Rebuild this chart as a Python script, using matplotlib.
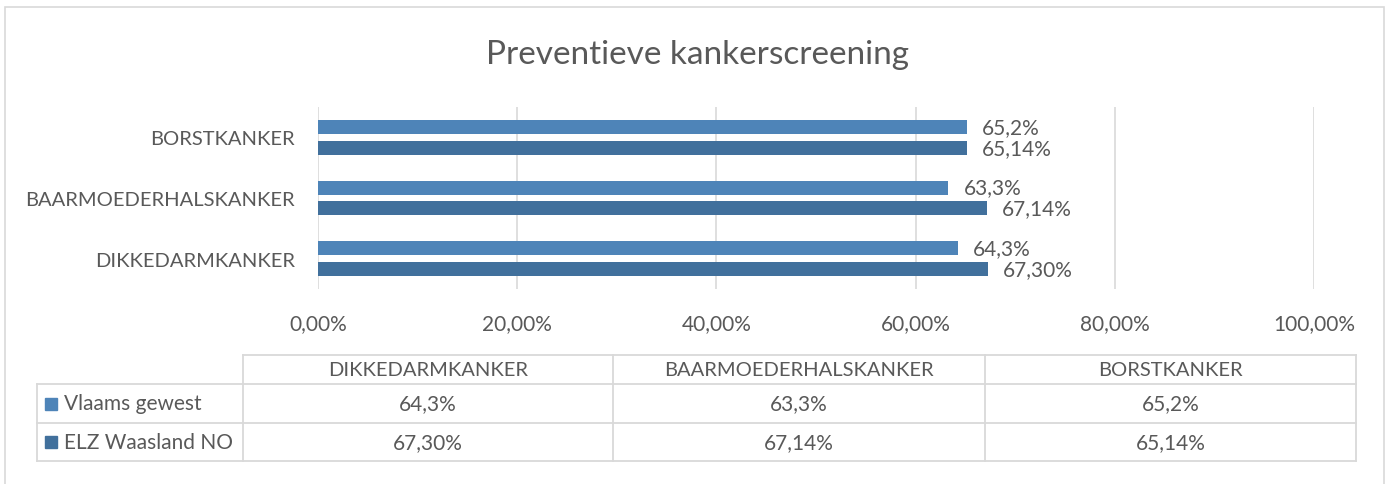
import numpy as np
import matplotlib.pyplot as plt
from matplotlib.patches import Rectangle
from matplotlib.lines import Line2D

# Daten
categorieen = ["DIKKEDARMKANKER", "BAARMOEDERHALSKANKER", "BORSTKANKER"]
reeksen = ["Vlaams gewest", "ELZ Waasland NO"]
vlaams = [64.3, 63.3, 65.2]
elz = [67.30, 67.14, 65.14]
vlaams_labels = ["64,3%", "63,3%", "65,2%"]
elz_labels = ["67,30%", "67,14%", "65,14%"]
x_ticks = [0, 20, 40, 60, 80, 100]
x_ticklabels = ["0,00%", "20,00%", "40,00%", "60,00%", "80,00%", "100,00%"]

kleur_vlaams = "#4e84b8"
kleur_elz = "#41709c"
tekst = "#595959"
raster = "#d9d9d9"

plt.rcParams['font.family'] = ['Lato', 'DejaVu Sans']

W, H = 1390, 485
fig = plt.figure(figsize=(W / 100, H / 100), dpi=100)

def fx(px):
    return px / W

def fy(py):
    return 1 - py / H

# Kaderrand
fig.add_artist(Rectangle((fx(5), fy(490)), fx(1384 - 5), (490 - 8) / H,
                         transform=fig.transFigure, fill=False,
                         edgecolor=raster, linewidth=1.2))

ax = fig.add_axes([fx(318), fy(290), fx(1314 - 318), (290 - 108) / H])

y = np.arange(len(categorieen))
offset = 0.172
hoogte = 0.23
ax.barh(y + offset, vlaams, height=hoogte, color=kleur_vlaams)
ax.barh(y - offset, elz, height=hoogte, color=kleur_elz)

for i in range(len(categorieen)):
    ax.text(vlaams[i] + 1.5, y[i] + offset, vlaams_labels[i], va="center",
            ha="left", fontsize=15, color=tekst)
    ax.text(elz[i] + 1.5, y[i] - offset, elz_labels[i], va="center",
            ha="left", fontsize=15, color=tekst)

ax.set_xlim(0, 100)
ax.set_ylim(-0.5, 2.5)
ax.set_xticks(x_ticks)
ax.set_xticklabels(x_ticklabels, fontsize=15, color=tekst)
ax.set_yticks(y)
ax.set_yticklabels(categorieen, fontsize=14.5, color=tekst)
ax.tick_params(axis="both", length=0)
ax.tick_params(axis="x", pad=17)
ax.tick_params(axis="y", pad=16.5)
ax.grid(axis="x", color=raster, linewidth=1.2)
ax.set_axisbelow(True)
for s in ax.spines.values():
    s.set_visible(False)

fig.text(fx(697), fy(55), "Preventieve kankerscreening", ha="center",
         va="center", fontsize=24, color=tekst)

# Datatabel
kol = [37, 243, 613, 985, 1356]
rij = [356, 385, 424, 462]

def hlijn(py, x0, x1):
    fig.add_artist(Line2D([fx(x0), fx(x1)], [fy(py), fy(py)],
                          transform=fig.transFigure, color=raster, lw=1.3))

def vlijn(px, y0, y1):
    fig.add_artist(Line2D([fx(px), fx(px)], [fy(y0), fy(y1)],
                          transform=fig.transFigure, color=raster, lw=1.3))

hlijn(rij[0], kol[1], kol[-1])
for r in rij[1:]:
    hlijn(r, kol[0], kol[-1])
vlijn(kol[0], rij[1], rij[-1])
for c in kol[1:]:
    vlijn(c, rij[0], rij[-1])

for j, cat in enumerate(categorieen):
    cx = (kol[j + 1] + kol[j + 2]) / 2
    fig.text(fx(cx), fy((rij[0] + rij[1]) / 2), cat, ha="center",
             va="center", fontsize=14.5, color=tekst)
    fig.text(fx(cx), fy((rij[1] + rij[2]) / 2), vlaams_labels[j],
             ha="center", va="center", fontsize=15, color=tekst)
    fig.text(fx(cx), fy((rij[2] + rij[3]) / 2), elz_labels[j],
             ha="center", va="center", fontsize=15, color=tekst)

for k, (naam, kleur) in enumerate(zip(reeksen, [kleur_vlaams, kleur_elz])):
    my = (rij[k + 1] + rij[k + 2]) / 2
    fig.add_artist(Rectangle((fx(45), fy(my + 6)), fx(12), 12 / H,
                             transform=fig.transFigure, color=kleur))
    fig.text(fx(64), fy(my), naam, ha="left", va="center", fontsize=15,
             color=tekst)

fig.savefig("out.png", dpi=100)
